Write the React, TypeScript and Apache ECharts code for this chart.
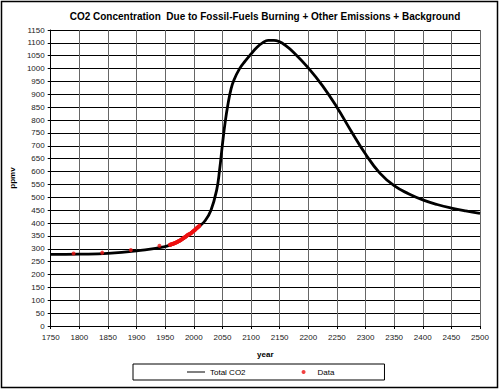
import React, { useEffect, useRef } from "react";
import * as echarts from "echarts";

const totalYears = [1750, 1800, 1850, 1900, 1950, 1975, 2000, 2010, 2020, 2030, 2040, 2045, 2050, 2055, 2060, 2065, 2070, 2080, 2090, 2100, 2110, 2120, 2130, 2140, 2150, 2160, 2175, 2200, 2225, 2250, 2275, 2300, 2325, 2350, 2375, 2400, 2425, 2450, 2475, 2500];
const totalCO2 = [278, 279, 282, 292, 308, 330, 370, 388, 410, 450, 529, 605, 705, 795, 865, 920, 955, 1000, 1030, 1057, 1082, 1100, 1110, 1110, 1104, 1090, 1062, 1003, 933, 850, 757, 668, 594, 545, 514, 490, 472, 458, 447, 438];

const dataYears = [1790, 1840, 1890, 1940, 1958, 1959, 1960, 1961, 1962, 1963, 1964, 1965, 1966, 1967, 1968, 1969, 1970, 1971, 1972, 1973, 1974, 1975, 1976, 1977, 1978, 1979, 1980, 1981, 1982, 1983, 1984, 1985, 1986, 1987, 1988, 1989, 1990, 1991, 1992, 1993, 1994, 1995, 1996, 1997, 1998, 1999, 2000, 2001, 2002, 2003, 2004, 2005, 2006, 2007, 2008, 2009, 2010];
const dataCO2 = [282, 285, 295, 312, 315.3, 316.0, 316.9, 317.6, 318.5, 319.0, 319.6, 320.0, 321.4, 322.2, 323.0, 324.6, 325.7, 326.3, 327.5, 329.7, 330.2, 331.1, 332.1, 333.8, 335.4, 336.8, 338.7, 340.1, 341.4, 343.0, 344.6, 346.0, 347.4, 349.2, 351.6, 353.1, 354.4, 355.6, 356.4, 357.1, 358.8, 360.8, 362.6, 363.7, 366.7, 368.4, 369.6, 371.1, 373.2, 375.8, 377.5, 379.8, 381.9, 383.8, 385.6, 387.4, 389.9];

const titleText = "CO2 Concentration  Due to Fossil-Fuels Burning + Other Emissions + Background";

export default function App() {
  const ref = useRef<HTMLDivElement>(null);
  useEffect(() => {
    if (!ref.current) return;
    const chart = echarts.init(ref.current, null, { renderer: "svg" });
    const font = "Arial, 'Liberation Sans', sans-serif";
    chart.setOption({
      animation: false,
      backgroundColor: "#fff",
      title: {
        text: titleText,
        left: 260,
        textAlign: "center",
        top: 6,
        textStyle: { fontFamily: font, fontSize: 10, fontWeight: "bold", color: "#000" },
      },
      grid: { left: 40, right: 20, top: 30, bottom: 64, containLabel: false },
      xAxis: {
        type: "value",
        min: 1750,
        max: 2500,
        interval: 50,
        name: "year",
        nameLocation: "middle",
        nameGap: 24,
        nameTextStyle: { fontFamily: font, fontSize: 8, fontWeight: "bold", color: "#000" },
        axisLine: { lineStyle: { color: "#000", width: 1 } },
        axisTick: { show: true, length: 3, lineStyle: { color: "#000" } },
        axisLabel: { fontFamily: font, fontSize: 8, color: "#222", margin: 7, formatter: (v: number) => String(v) },
        splitLine: { show: true, lineStyle: { color: "#666", width: 1 } },
      },
      yAxis: {
        type: "value",
        min: 0,
        max: 1150,
        interval: 50,
        name: "ppmv",
        nameLocation: "middle",
        nameRotate: 90,
        nameGap: 30,
        nameTextStyle: { fontFamily: font, fontSize: 8, fontWeight: "bold", color: "#000" },
        axisLine: { show: true, lineStyle: { color: "#000", width: 1 } },
        axisTick: { show: true, length: 3, lineStyle: { color: "#000" } },
        axisLabel: { fontFamily: font, fontSize: 8, color: "#222", margin: 6, formatter: (v: number) => String(v) },
        splitLine: { show: true, lineStyle: { color: "#000", width: 1 } },
      },
      legend: {
        left: 133,
        top: 364,
        orient: "horizontal",
        borderColor: "#000",
        borderWidth: 1,
        borderRadius: 0,
        padding: [4, 50, 4, 54],
        itemGap: 56,
        itemWidth: 18,
        itemHeight: 4,
        textStyle: { fontFamily: font, fontSize: 8, color: "#000" },
        data: [
          { name: "Total CO2", icon: "path://M0,0L18,0L18,1L0,1Z" },
          { name: "Data", icon: "circle" },
        ],
      },
      graphic: [
        {
          type: "rect",
          shape: { x: 1.5, y: 1.5, width: 496, height: 386 },
          style: { fill: "none", stroke: "#000", lineWidth: 1.5 },
          silent: true,
          z: 100,
        },
      ],
      series: [
        {
          name: "Total CO2",
          type: "line",
          data: totalYears.map((y, i) => [y, totalCO2[i]]),
          smooth: 0.45,
          symbol: "none",
          lineStyle: { color: "#000", width: 2.8 },
          itemStyle: { color: "#000" },
          z: 2,
        },
        {
          name: "Data",
          type: "scatter",
          data: dataYears.map((y, i) => [y, dataCO2[i]]),
          symbol: "circle",
          symbolSize: 4,
          itemStyle: { color: "#ee1111" },
          z: 3,
        },
      ],
    });
    return () => chart.dispose();
  }, []);
  return <div ref={ref} style={{ width: 500, height: 390, position: "absolute", left: 0, top: 0 }} />;
}
